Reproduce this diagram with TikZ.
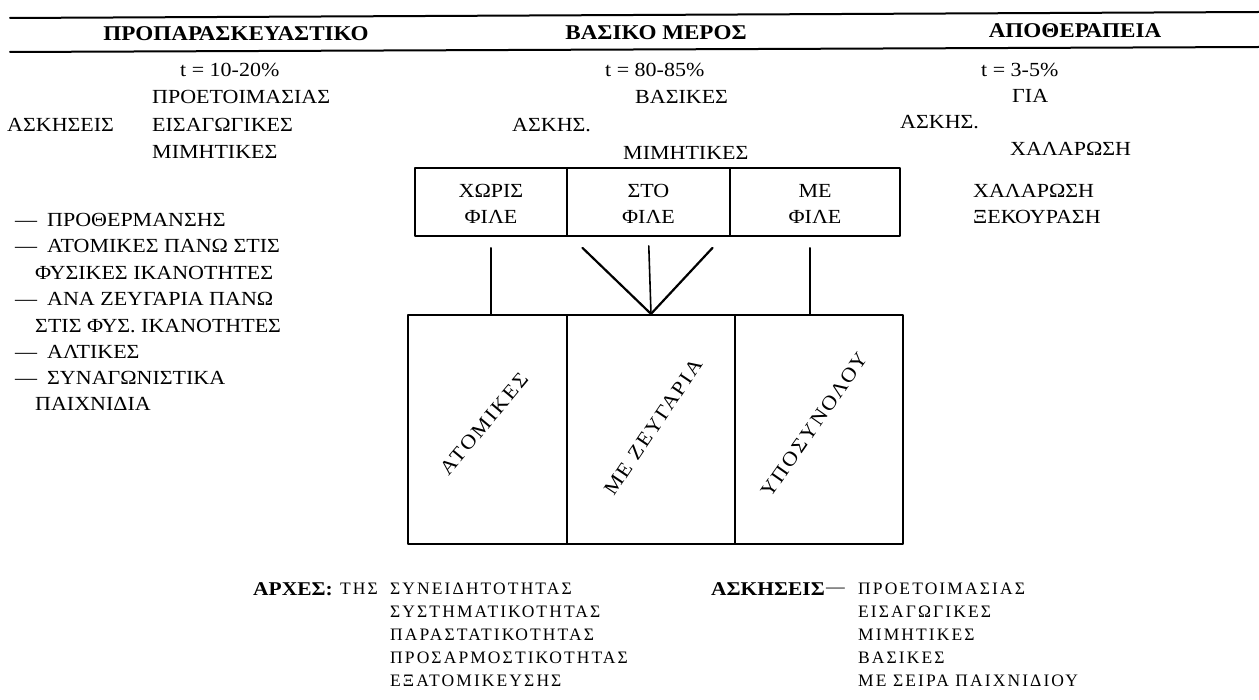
\documentclass[tikz,border=0pt]{standalone}
\usepackage{fontspec}
\setmainfont{Liberation Serif}[FakeStretch=1.1]
\newfontfamily\spaced{Liberation Serif}[LetterSpace=12]
\newfontfamily\diag{Liberation Serif}[FakeStretch=1.1, LetterSpace=10]
\newcommand\txt{\fontsize{20}{26}\selectfont}
\newcommand\hdr{\fontsize{21}{24}\selectfont\bfseries}
\newcommand\low{\spaced\fontsize{17.5}{22}\selectfont}
\newcommand\lowbf{\rmfamily\fontsize{19.5}{22}\selectfont\bfseries}
\newcommand\rot{\diag\fontsize{20}{24}\selectfont}
\begin{document}
\begin{tikzpicture}[x=1pt, y=-1pt, line join=round, line cap=round, font=\txt,
	lbl/.style={anchor=west, inner sep=0pt},
	head/.style={font=\hdr, inner sep=0pt},
	lowlbl/.style={anchor=west, inner sep=0pt, font=\low},
	upbox/.style={draw, line width=1.8, minimum height=68, inner sep=0pt},
	lowbox/.style={draw, line width=2.2, minimum height=229, inner sep=0pt},
	slant/.style={font=\rot, inner sep=0pt}]
	\useasboundingbox (0,0) rectangle (1259,700);
	\path
	(10,18) coordinate (R1l)
	(1259,12) coordinate (R1r)
	(10,52) coordinate (R2l)
	(1259,47) coordinate (R2r)
	;
	\draw[line width=2] (R1l)--(R1r) (R2l)--(R2r);
	% headings
	\node[head] (hA) at (236,34) {ΠΡΟΠΑΡΑΣΚΕΥΑΣΤΙΚΟ};
	\node[head] (hB) at (656,33) {ΒΑΣΙΚΟ ΜΕΡΟΣ};
	\node[head] (hC) at (1075,31) {ΑΠΟΘΕΡΑΠΕΙΑ};
	% columns
	\foreach \n/\x/\y/\t in {pt/180/70/{t = 10-20\%}, pa/152/97/ΠΡΟΕΤΟΙΜΑΣΙΑΣ,
		pk/7/125/ΑΣΚΗΣΕΙΣ, pb/152/125/ΕΙΣΑΓΩΓΙΚΕΣ, pc/152/152/ΜΙΜΗΤΙΚΕΣ,
		mt/605/70/{t = 80-85\%}, ma/635/97/ΒΑΣΙΚΕΣ, mk/512/125/ΑΣΚΗΣ.,
		mb/623/153/ΜΙΜΗΤΙΚΕΣ,
		rt/981/70/{t = 3-5\%}, ra/1012/96/ΓΙΑ, rk/900/122/ΑΣΚΗΣ.,
		rb/1010/149/ΧΑΛΑΡΩΣΗ, rc/973/191/ΧΑΛΑΡΩΣΗ, rd/973/217/ΞΕΚΟΥΡΑΣΗ}
	\node[lbl] (\n) at (\x,\y) {\t};
	% left list
	\foreach \n/\x/\y/\t in {l1/15/220/{—\enspace ΠΡΟΘΕΡΜΑΝΣΗΣ},
		l2/15/246/{—\enspace ΑΤΟΜΙΚΕΣ ΠΑΝΩ ΣΤΙΣ}, l3/35/273/{ΦΥΣΙΚΕΣ ΙΚΑΝΟΤΗΤΕΣ},
		l4/15/299/{—\enspace ΑΝΑ ΖΕΥΓΑΡΙΑ ΠΑΝΩ}, l5/35/326/{ΣΤΙΣ ΦΥΣ. ΙΚΑΝΟΤΗΤΕΣ},
		l6/15/352/{—\enspace ΑΛΤΙΚΕΣ}, l7/15/378/{—\enspace ΣΥΝΑΓΩΝΙΣΤΙΚΑ},
		l8/35/404/ΠΑΙΧΝΙΔΙΑ}
	\node[lbl] (\n) at (\x,\y) {\t};
	% boxes
	\node[upbox, minimum width=152] (b1) at (491,202) {};
	\node[upbox, minimum width=163] (b2) at (648.5,202) {};
	\node[upbox, minimum width=170] (b3) at (815,202) {};
	\foreach \b in {b1,b2,b3}
	\path ([yshift=11]\b.center) coordinate (\b t) ([yshift=-15]\b.center) coordinate (\b f);
	\node (w1) at (b1t) {ΧΩΡΙΣ};
	\node (w2) at (b2t) {ΣΤΟ};
	\node (w3) at (b3t) {ΜΕ};
	\foreach \b in {b1,b2,b3}
	\node (f\b) at (\b f) {ΦΙΛΕ};
	\node[lowbox, minimum width=159] (c1) at (487.5,429.5) {};
	\node[lowbox, minimum width=168] (c2) at (651,429.5) {};
	\node[lowbox, minimum width=168] (c3) at (819,429.5) {};
	\node[slant, rotate=50] (s1) at (484,424) {ΑΤΟΜΙΚΕΣ};
	\node[slant, rotate=56] (s2) at (653,427) {ΜΕ ΖΕΥΓΑΡΙΑ};
	\node[slant, rotate=55] (s3) at (814,425) {ΥΠΟΣΥΝΟΛΟΥ};
	% connectors
	\path
	([shift={(-66,11)}]b2.south) coordinate (vl)
	([shift={(64,11)}]b2.south) coordinate (vr)
	;
	\draw[line width=2.2] (vl)--(c2.north)--(vr);
	\draw[line width=1.6, shorten <=11] (b1.south)--(b1.south |- c1.north);
	\draw[line width=1.6, shorten <=9] (b2.south)--(c2.north);
	\draw[line width=1.6, shorten <=11] ([xshift=-5]b3.south)--([xshift=-5]b3.south |- c3.north);
	% principles and exercises
	\node[lbl, font=\lowbf] (ah) at (253,589) {ΑΡΧΕΣ:};
	\node[lowlbl] (th) at (340,589) {ΤΗΣ};
	\foreach \t [count=\i] in {ΣΥΝΕΙΔΗΤΟΤΗΤΑΣ, ΣΥΣΤΗΜΑΤΙΚΟΤΗΤΑΣ, ΠΑΡΑΣΤΑΤΙΚΟΤΗΤΑΣ,
		ΠΡΟΣΑΡΜΟΣΤΙΚΟΤΗΤΑΣ, ΕΞΑΤΟΜΙΚΕΥΣΗΣ}
	\node[lowlbl] (ar\i) at (390,566+23*\i) {\t};
	\node[lbl, font=\lowbf] (ek) at (711,589) {ΑΣΚΗΣΕΙΣ};
	\node[lbl, font=\rmfamily\fontsize{17}{20}\selectfont] (ed) at (826,590) {—};
	\foreach \t [count=\i] in {ΠΡΟΕΤΟΙΜΑΣΙΑΣ, ΕΙΣΑΓΩΓΙΚΕΣ, ΜΙΜΗΤΙΚΕΣ, ΒΑΣΙΚΕΣ,
		ΜΕ ΣΕΙΡΑ ΠΑΙΧΝΙΔΙΟΥ}
	\node[lowlbl] (ex\i) at (858,566+23*\i) {\t};
\end{tikzpicture}
\end{document}
